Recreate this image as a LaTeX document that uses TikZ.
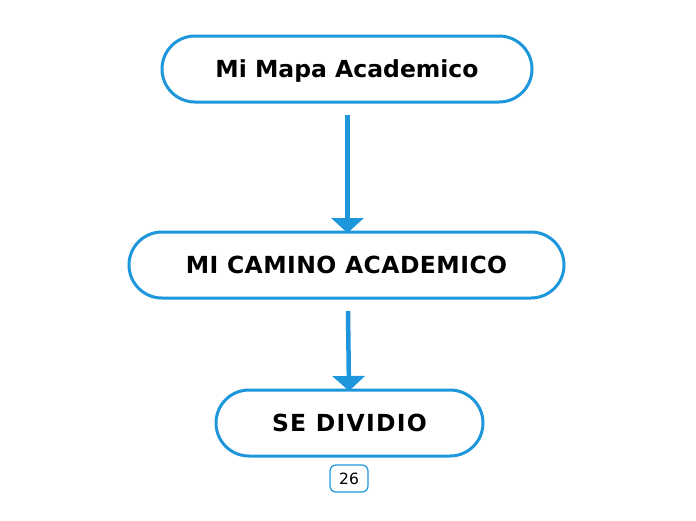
\documentclass[tikz,border=0pt]{standalone}
\usepackage{fontspec}
\setmainfont{DejaVu Sans}
\usetikzlibrary{arrows.meta}
\definecolor{mblue}{HTML}{1E96DC}
\tikzset{
  topic/.style={draw=mblue, line width=3pt, rounded corners=33pt, minimum height=66pt, font=\fontsize{23.5}{27}\selectfont\bfseries, text=black, inner sep=0pt, text height=17.5pt, text depth=0pt},
  conn/.style={draw=mblue, line width=4.5pt, -{Triangle[width=32pt,length=15pt]}},
  badge/.style={draw=mblue, line width=1.2pt, rounded corners=6pt, minimum width=38pt, minimum height=27pt, font=\fontsize{15.5}{18}\selectfont, inner sep=0pt, text height=11.5pt, text depth=0pt}
}
\begin{document}
\begin{tikzpicture}[x=1pt,y=-1pt]
\useasboundingbox (0,0) rectangle (696,520);
\node[topic, minimum width=370pt] (a) at (347,69) {Mi Mapa Academico};
\node[topic, minimum width=435pt] (b) at (346.5,265) {\addfontfeature{LetterSpace=1.9}MI CAMINO ACADEMICO};
\node[topic, minimum width=267pt] (c) at (349.5,423) {\addfontfeature{LetterSpace=5.5}SE DIVIDIO};
\node[badge] (n) at (349,478.5) {26};
\coordinate (a1) at (347.5,115);
\coordinate (b0) at (347.5,233);
\coordinate (b1) at (348,311);
\coordinate (c0) at (349,391);
\draw[conn] (a1) -- (b0);
\draw[conn] (b1) -- (c0);
\end{tikzpicture}
\end{document}
